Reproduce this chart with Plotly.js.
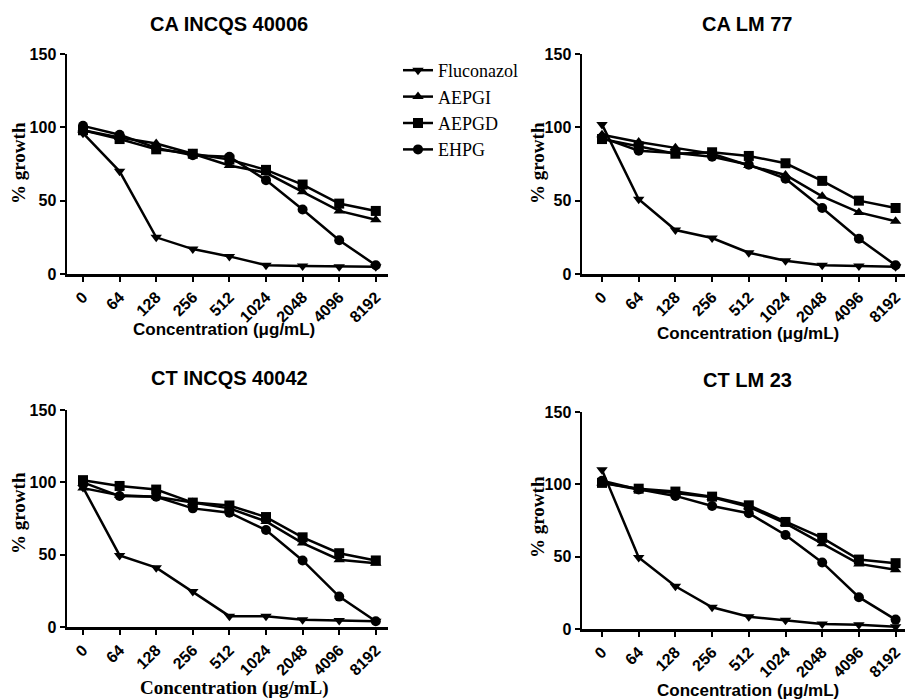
<!DOCTYPE html>
<html>
<head>
<meta charset="utf-8">
<script src="https://cdn.plot.ly/plotly-3.0.1.min.js"></script>
<style>html,body{margin:0;padding:0;background:#fff;}#chart{width:907px;height:700px;}</style>
</head>
<body>
<div id="chart"></div>
<script>
const concentrations = ["0","64","128","256","512","1024","2048","4096","8192"];
const seriesNames = ["Fluconazol","AEPGI","AEPGD","EHPG"];
const panelTitles = ["CA INCQS 40006","CA LM 77","CT INCQS 40042","CT LM 23"];
const yTicks = [0,50,100,150];

// CA INCQS 40006
const caIncqs_Fluconazol = [96, 70, 25, 17, 12, 6, 5.5, 5, 5];
const caIncqs_AEPGI      = [98, 93, 89, 82, 74, 69, 56, 43, 37];
const caIncqs_AEPGD      = [98, 92, 85, 82, 78, 71, 61, 48, 43];
const caIncqs_EHPG       = [101, 95, 86, 81, 80, 64, 44, 23, 6];
// CA LM 77
const caLm_Fluconazol = [102, 51, 30, 24.5, 14.5, 9, 6, 5.5, 5];
const caLm_AEPGI      = [95, 90, 86, 82, 74, 67.5, 53, 42, 36];
const caLm_AEPGD      = [92, 87, 82, 83, 80.5, 75.5, 63.5, 50, 45];
const caLm_EHPG       = [93, 84, 82.5, 80, 74.5, 65, 45, 24, 6];
// CT INCQS 40042
const ctIncqs_Fluconazol = [96.5, 49.5, 41, 24.5, 7.5, 7.5, 5, 4.5, 4];
const ctIncqs_AEPGI      = [96, 91, 90, 86, 82, 73, 58, 46.5, 44];
const ctIncqs_AEPGD      = [101.5, 97.5, 95, 86, 84, 76, 62, 51, 46];
const ctIncqs_EHPG       = [100, 90.5, 90, 82, 79, 67, 46, 21, 4];
// CT LM 23
const ctLm_Fluconazol = [110, 49.5, 29.5, 15, 8.5, 6, 3.5, 3, 1.5];
const ctLm_AEPGI      = [101, 96.5, 94, 91, 84.5, 73, 59, 45, 41];
const ctLm_AEPGD      = [101, 97, 95, 91.5, 85.5, 74, 63, 48, 45.5];
const ctLm_EHPG       = [102.5, 96.5, 92, 85, 80, 65, 46, 22, 6.5];

const panelData = [
  [caIncqs_Fluconazol, caIncqs_AEPGI, caIncqs_AEPGD, caIncqs_EHPG],
  [caLm_Fluconazol, caLm_AEPGI, caLm_AEPGD, caLm_EHPG],
  [ctIncqs_Fluconazol, ctIncqs_AEPGI, ctIncqs_AEPGD, ctIncqs_EHPG],
  [ctLm_Fluconazol, ctLm_AEPGI, ctLm_AEPGD, ctLm_EHPG]
];

const W = 907, H = 700;
const SANS = "Arial, 'Liberation Sans', sans-serif";
const SERIF = "'Times New Roman', 'Liberation Serif', serif";
const symbols = ["triangle-down","triangle-up","square","circle"];

// pixel geometry of each panel: [xLeft, xRight, yTop(150), yBottom(0), cat0 px, step px]
const geo = [
  [67, 388, 54, 274, 83, 36.6],
  [582, 905, 54, 274, 602, 36.7],
  [67, 388, 410, 627, 83, 36.6],
  [582, 905, 412, 629, 602, 36.7]
];

const traces = [];
const layout = {
  width: W, height: H,
  margin: {l:0, r:0, t:0, b:0},
  paper_bgcolor: "#fff", plot_bgcolor: "#fff",
  font: {family: SANS, color: "#000"},
  showlegend: true,
  legend: {
    x: 398/W, y: 1 - 52/H, xanchor: "left", yanchor: "top",
    font: {family: SERIF, size: 18, color: "#000"},
    bgcolor: "rgba(0,0,0,0)", itemwidth: 30, tracegroupgap: 0
  },
  annotations: []
};

panelData.forEach((series, p) => {
  const [xl, xr, yt, yb, c0, step] = geo[p];
  const ax = p === 0 ? "" : String(p + 1);
  series.forEach((vals, s) => {
    traces.push({
      x: concentrations, y: vals,
      xaxis: "x" + ax, yaxis: "y" + ax,
      type: "scatter", mode: "lines+markers",
      name: seriesNames[s],
      legendgroup: seriesNames[s],
      showlegend: p === 0,
      line: {color: "#000", width: 2.5},
      marker: {symbol: symbols[s], size: 10, color: "#000"},
      cliponaxis: false
    });
  });
  const common = {
    showline: true, linecolor: "#000", linewidth: 2.5,
    ticks: "outside", ticklen: 5, tickwidth: 2, tickcolor: "#000",
    showgrid: false, zeroline: false, fixedrange: true
  };
  layout["xaxis" + ax] = Object.assign({}, common, {
    type: "category",
    domain: [xl / W, xr / W],
    range: [(xl - c0) / step, (xr - c0) / step],
    anchor: "y" + ax,
    tickangle: -45,
    tickfont: {family: SANS, size: 16, color: "#000", weight: "bold"}
  });
  layout["yaxis" + ax] = Object.assign({}, common, {
    domain: [1 - yb / H, 1 - yt / H],
    range: [0, 150],
    tickvals: yTicks,
    anchor: "x" + ax,
    tickfont: {family: SANS, size: 16, color: "#000", weight: "bold"}
  });
});

const titlePos = [[229, 24], [747, 24], [229, 378], [747, 380]];
const xTitlePos = [[224, 329, SANS], [748, 334, SANS], [234, 688, SERIF], [748, 690, SANS]];
const yTitlePos = [[18, 163], [537, 163], [18, 513], [537, 517]];

panelTitles.forEach((t, p) => {
  layout.annotations.push({
    text: "<b>" + t + "</b>", xref: "paper", yref: "paper",
    x: titlePos[p][0] / W, y: 1 - titlePos[p][1] / H,
    xanchor: "center", yanchor: "middle", showarrow: false,
    font: {family: SANS, size: 20, color: "#000"}
  });
  layout.annotations.push({
    text: "<b>Concentration (μg/mL)</b>", xref: "paper", yref: "paper",
    x: xTitlePos[p][0] / W, y: 1 - xTitlePos[p][1] / H,
    xanchor: "center", yanchor: "middle", showarrow: false,
    font: {family: xTitlePos[p][2], size: xTitlePos[p][2] === SERIF ? 19 : 17, color: "#000"}
  });
  layout.annotations.push({
    text: "<b>% growth</b>", xref: "paper", yref: "paper",
    x: yTitlePos[p][0] / W, y: 1 - yTitlePos[p][1] / H,
    xanchor: "center", yanchor: "middle", showarrow: false, textangle: -90,
    font: {family: SERIF, size: 19, color: "#000"}
  });
});

Plotly.newPlot("chart", traces, layout, {displayModeBar: false, staticPlot: true});
</script>
</body>
</html>
